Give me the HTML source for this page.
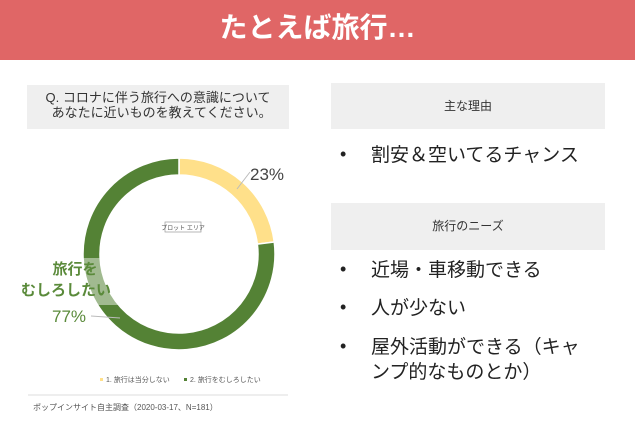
<!DOCTYPE html>
<html><head><meta charset="utf-8"><style>
body{margin:0;width:635px;height:440px;background:#fff;position:relative;overflow:hidden;font-family:"Liberation Sans","Noto Sans CJK JP",sans-serif;}
.abs{position:absolute}
.b{position:absolute;left:340px;font-size:18px;color:#222;}
.t{position:absolute;left:371px;font-size:19px;color:#222;line-height:25px;white-space:nowrap;}
</style></head><body>
<div class="abs" style="left:0;top:0;width:635px;height:60px;background:#e06666;color:#fff;font-size:28px;font-weight:bold;text-align:center;line-height:56px;">たとえば旅行…</div>
<div class="abs" style="left:27px;top:85px;width:262px;height:44px;background:#efefef;color:#333;font-size:13px;line-height:15px;text-align:center;padding-top:5px;box-sizing:border-box;">Q. コロナに伴う旅行への意識について<br>&nbsp;&nbsp;あなたに近いものを教えてください。</div>
<svg class="abs" style="left:0;top:0" width="635" height="440">
<g id="donut"></g>
<rect x="165" y="222" width="36" height="10" fill="#fff" stroke="#999" stroke-width="0.7"/>
<text x="183" y="230" font-size="6" text-anchor="middle" fill="#555">プロット エリア</text>
<line x1="237" y1="189" x2="250" y2="172" stroke="#bbb" stroke-width="1"/>
<text x="250" y="180" font-size="17" fill="#444">23%</text>
<rect x="83" y="258" width="42" height="47" fill="#fff" opacity="0.45"/>
<text x="75" y="274" font-size="15" font-weight="bold" fill="#5a8a3a" text-anchor="middle">旅行を</text>
<text x="66" y="295" font-size="15" font-weight="bold" fill="#5a8a3a" text-anchor="middle">むしろしたい</text>
<text x="52" y="322" font-size="17" fill="#5a8a3a">77%</text>
<line x1="91" y1="316" x2="120" y2="318" stroke="#bbb" stroke-width="1"/>
<rect x="100" y="378" width="3" height="3" fill="#ffe08a"/>
<text x="106" y="382" font-size="7" fill="#555">1. 旅行は当分しない</text>
<rect x="184" y="378" width="3" height="3" fill="#548235"/>
<text x="190" y="382" font-size="7" fill="#555">2. 旅行をむしろしたい</text>
<line x1="28" y1="395" x2="288" y2="395" stroke="#ddd"/>
<text x="33" y="410" font-size="8" fill="#555">ポップインサイト自主調査（2020-03-17、N=181）</text>
</svg>
<div class="abs" style="left:331px;top:83px;width:274px;height:46px;background:#efefef;font-size:12px;text-align:center;line-height:46px;color:#333;">主な理由</div>
<div class="b" style="top:144px">•</div>
<div class="t" style="top:143px;">割安＆空いてるチャンス</div>
<div class="abs" style="left:331px;top:203px;width:274px;height:47px;background:#efefef;font-size:12px;text-align:center;line-height:47px;color:#333;">旅行のニーズ</div>
<div class="b" style="top:259px">•</div>
<div class="t" style="top:258px;">近場・車移動できる</div>
<div class="b" style="top:297px">•</div>
<div class="t" style="top:296px;">人が少ない</div>
<div class="b" style="top:336px">•</div>
<div class="t" style="top:335px;">屋外活動ができる（キャ<br>ンプ的なものとか）</div>
<script>
const categories=["旅行は当分しない","旅行をむしろしたい"];
const values=[23,77];
const colors=["#ffe08a","#548235"];
const cx=179,cy=254,ro=96,ri=79;
const g=document.getElementById('donut');
const total=values.reduce((a,b)=>a+b,0);
let a0=-Math.PI/2;
values.forEach((v,i)=>{
  const a1=a0+v/total*2*Math.PI;
  const large=(a1-a0)>Math.PI?1:0;
  const p=(r,a)=>[cx+r*Math.cos(a),cy+r*Math.sin(a)];
  const [x0,y0]=p(ro,a0),[x1,y1]=p(ro,a1),[x2,y2]=p(ri,a1),[x3,y3]=p(ri,a0);
  const path=document.createElementNS('http://www.w3.org/2000/svg','path');
  path.setAttribute('d',`M${x0},${y0}A${ro},${ro} 0 ${large} 1 ${x1},${y1}L${x2},${y2}A${ri},${ri} 0 ${large} 0 ${x3},${y3}Z`);
  path.setAttribute('fill',colors[i]);
  path.setAttribute('stroke','#fff');
  path.setAttribute('stroke-width','1.5');
  
  
  g.appendChild(path);
  a0=a1;
});
</script>
</body></html>
